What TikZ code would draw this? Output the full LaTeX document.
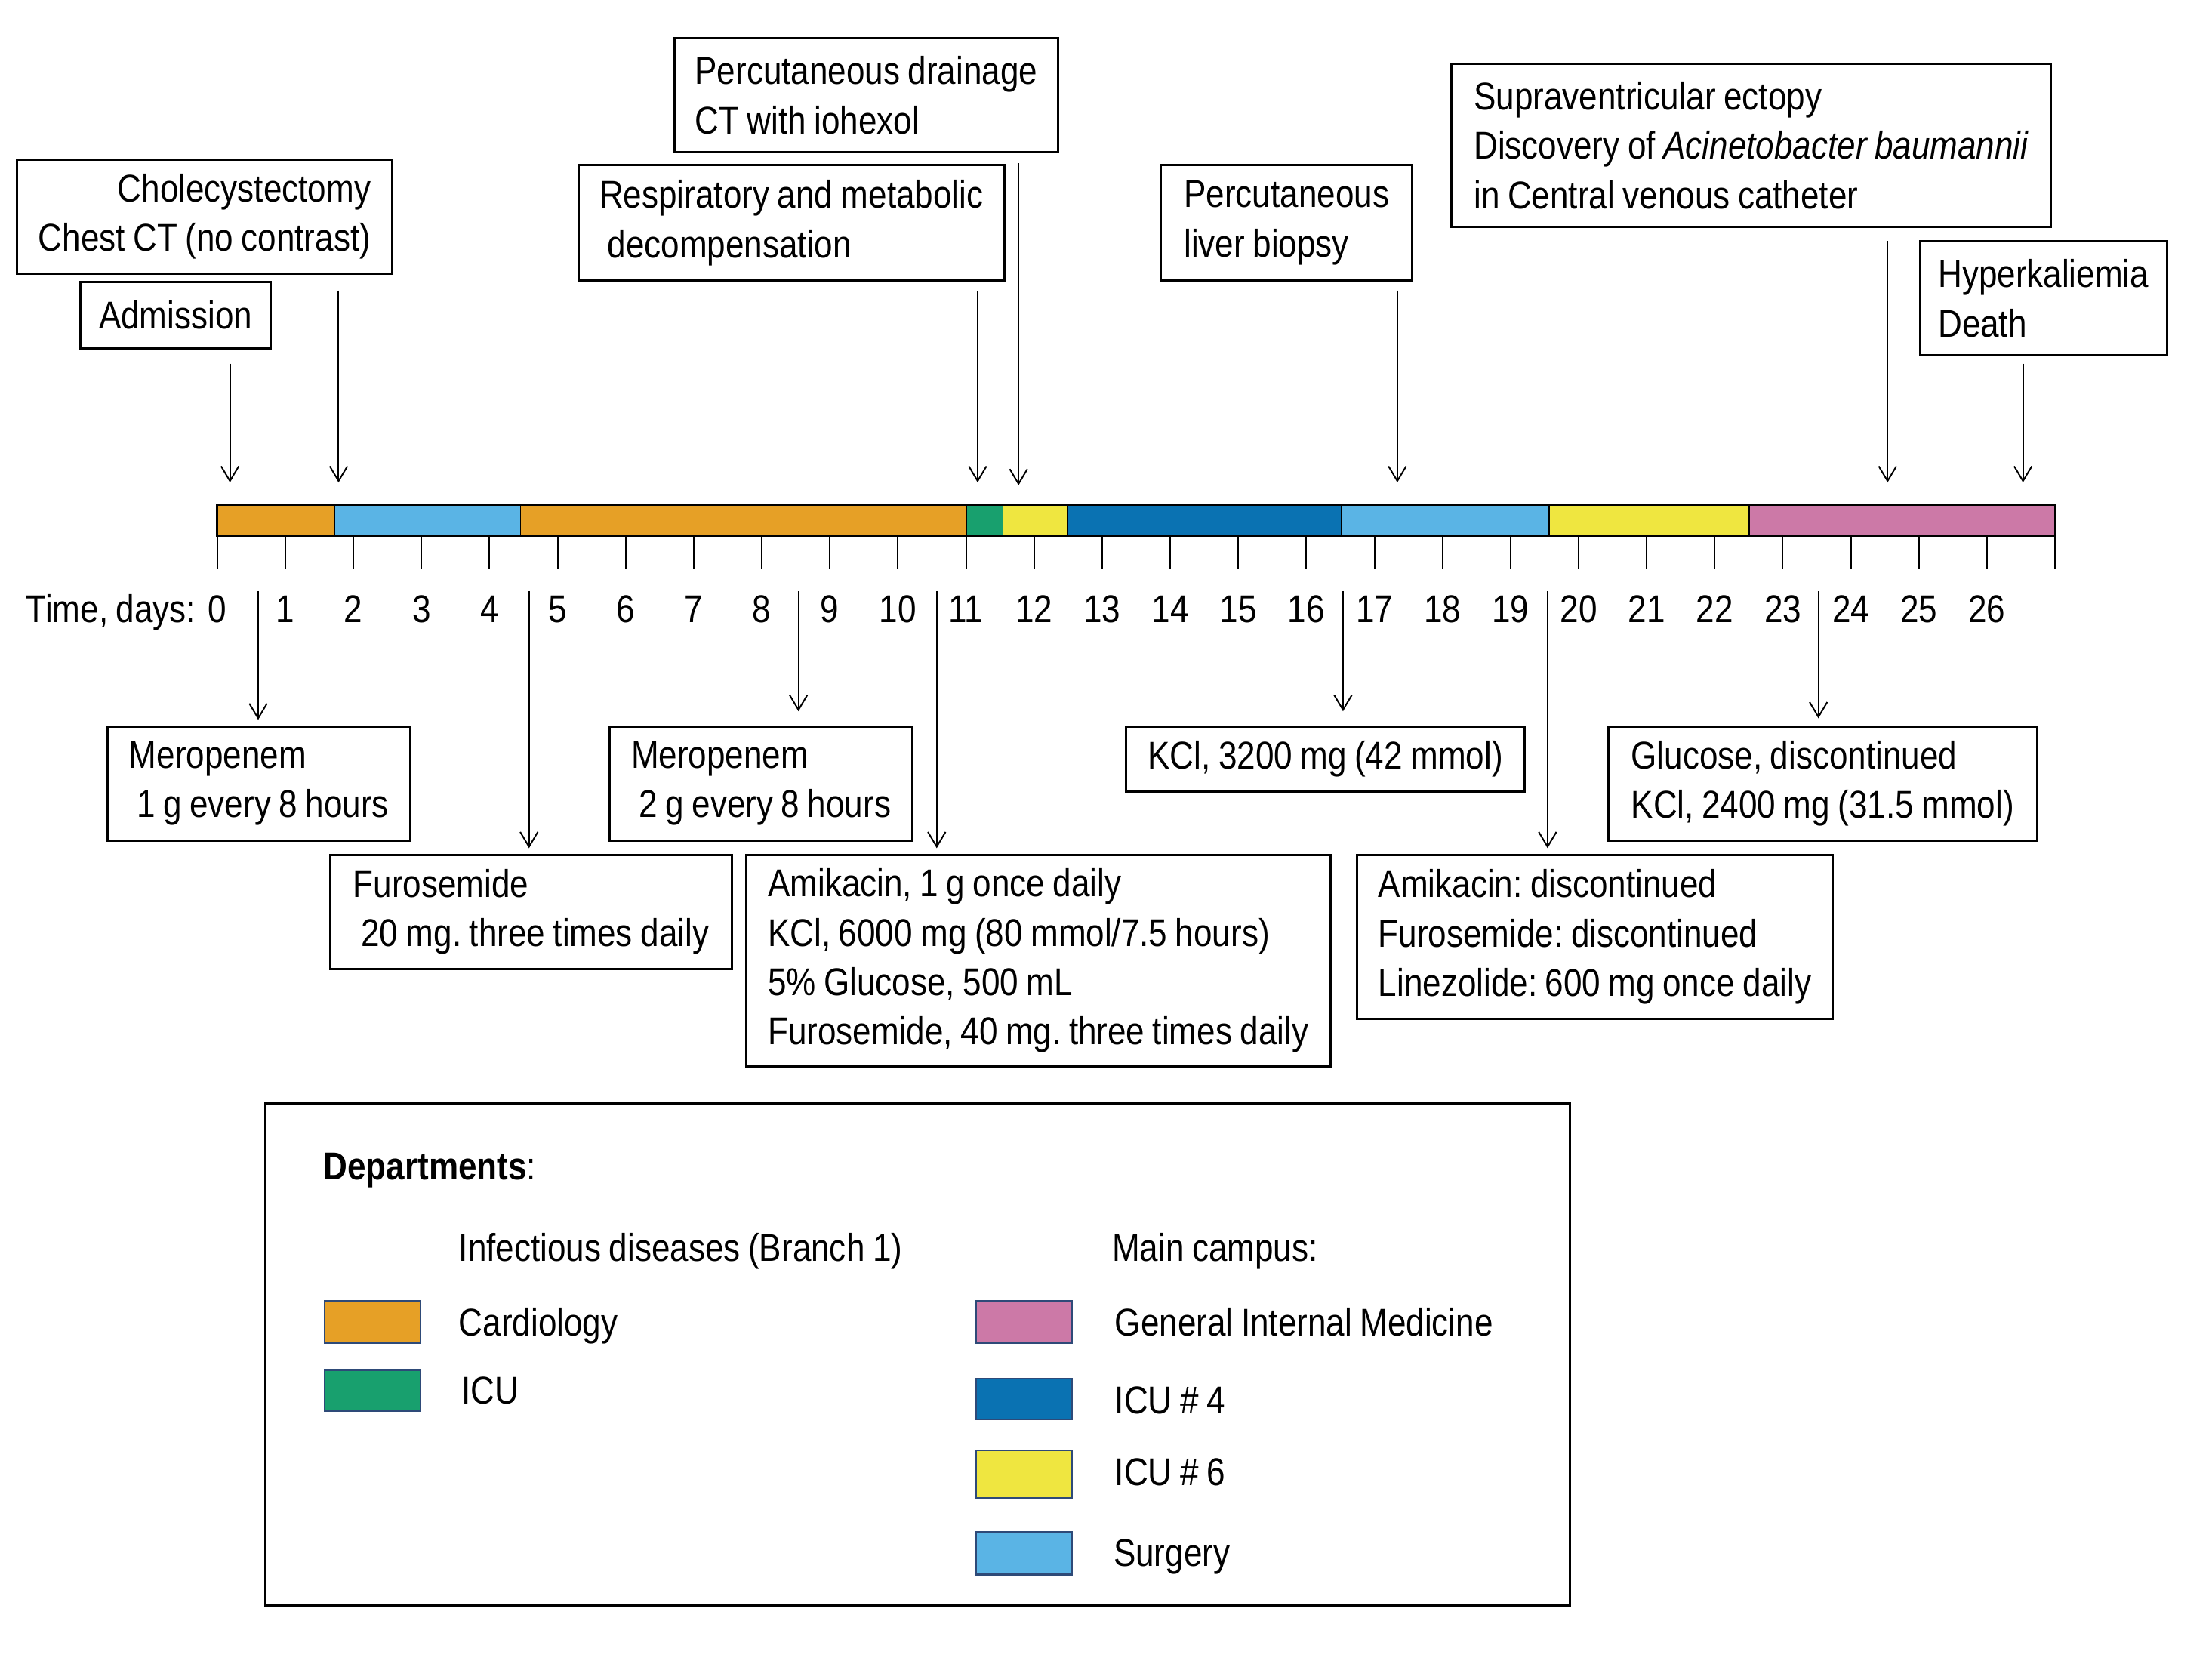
\documentclass[tikz,border=0pt]{standalone}
\usepackage{fontspec}
\setmainfont{Liberation Sans}[FakeStretch=0.86,WordSpace=0.86]
\usepackage{xcolor}
\definecolor{cardio}{HTML}{E6A026}
\definecolor{icuone}{HTML}{18A06E}
\definecolor{gim}{HTML}{CC79A7}
\definecolor{icufour}{HTML}{0A72B2}
\definecolor{icusix}{HTML}{EFE640}
\definecolor{surg}{HTML}{5AB4E5}
\definecolor{swline}{HTML}{2E4A78}
\usepackage{tikz}
\usetikzlibrary{arrows.meta,calc}
\tikzset{
  evt/.style   ={-{Straight Barb[length=2.1mm,width=2.5mm]},line width=0.6pt},
  evbox/.style ={draw,line width=0.9pt,align=left,inner xsep=0.22cm,
                 inner ysep=0pt,font=\fontsize{15.6}{19.9}\selectfont\frenchspacing},
  lbl/.style   ={font=\fontsize{15.6}{19.9}\selectfont\frenchspacing,inner sep=0pt},
  seg/.style   ={draw=black,line width=0.5pt},
  swatch/.style={draw=swline,line width=0.7pt},
}

\begin{document}
\begin{tikzpicture}[x=0.02cm,y=-0.02cm]
\useasboundingbox (0,0) rectangle (1568,1179);
% events above the timeline
\node[evbox,minimum width=2.70cm,minimum height=0.94cm] (adm) at (124.5,223.5) {Admission};
\node[evbox,align=right,minimum width=5.32cm,minimum height=1.62cm] (chole) at (145,153.5)
  {Cholecystectomy\\Chest CT (no contrast)};
\node[evbox,minimum width=5.44cm,minimum height=1.62cm] (drain) at (614,67.5)
  {Percutaneous drainage\\CT with iohexol};
\node[evbox,minimum width=6.04cm,minimum height=1.64cm] (resp) at (561,158)
  {Respiratory and metabolic\\~decompensation};
\node[evbox,minimum width=3.56cm,minimum height=1.64cm] (biop) at (912,158)
  {Percutaneous\\liver biopsy};
\node[evbox,minimum width=8.50cm,minimum height=2.32cm] (supra) at (1241.5,103)
  {Supraventricular ectopy\\Discovery of \textit{Acinetobacter baumannii}\\in Central venous catheter};
\node[evbox,minimum width=3.50cm,minimum height=1.62cm] (hyper) at (1448.5,211.5)
  {Hyperkaliemia\\Death};
% timeline
\foreach \a/\b/\c in {154/237/cardio,237/369/surg,369/685/cardio,685/711/icuone,711/757/icusix,
                      757/951/icufour,951/1098/surg,1098/1240/icusix,1240/1457/gim}
  \draw[seg,fill=\c] (\a,358) rectangle (\b,380);
\draw[line width=0.8pt] (154,358) rectangle (1457,380);
\foreach \d in {0,...,27}
  \draw[line width=0.6pt] (154+48.25*\d,380) -- ++(0,23);
\node[lbl,anchor=base east] (tlab) at (139,441) {Time, days:};
\foreach \d in {0,...,26}
  \node[lbl,anchor=base] (d\d) at (154+48.25*\d,441) {\d};
% arrows down to the timeline
\coordinate (aAdm)   at (163,342);
\coordinate (aChole) at (240,342);
\coordinate (aResp)  at (693,342);
\coordinate (aDrain) at (722,344);
\coordinate (aBiop)  at (990.5,342);
\coordinate (aSupra) at (1338,342);
\coordinate (aHyper) at (1434,342);
\draw[evt,shorten <=0.2cm]  (adm.south -| aAdm) -- (aAdm);
\draw[evt,shorten <=0.22cm] (chole.south -| aChole) -- (aChole);
\draw[evt,shorten <=0.12cm] (resp.south -| aResp) -- (aResp);
\draw[evt,shorten <=0.14cm] (drain.south -| aDrain) -- (aDrain);
\draw[evt,shorten <=0.12cm] (biop.south -| aBiop) -- (aBiop);
\draw[evt,shorten <=0.18cm] (supra.south -| aSupra) -- (aSupra);
\draw[evt,shorten <=0.1cm]  (hyper.south -| aHyper) -- (aHyper);
% treatments below the timeline
\node[evbox,minimum width=4.30cm,minimum height=1.62cm] (mer1) at (183.5,555.5)
  {Meropenem\\~1 g every 8 hours};
\node[evbox,minimum width=5.70cm,minimum height=1.62cm] (furo) at (376.5,646.5)
  {Furosemide\\~20 mg. three times daily};
\node[evbox,minimum width=4.30cm,minimum height=1.62cm] (mer2) at (539.5,555.5)
  {Meropenem\\~2 g every 8 hours};
\node[evbox,minimum width=8.28cm,minimum height=3.00cm] (amik) at (736,681)
  {Amikacin, 1 g once daily\\KCl, 6000 mg (80 mmol/7.5 hours)\\5\% Glucose, 500 mL\\Furosemide, 40 mg. three times daily};
\node[evbox,minimum width=5.66cm,minimum height=0.92cm] (kcl) at (939.5,538)
  {KCl, 3200 mg (42 mmol)};
\node[evbox,minimum width=6.74cm,minimum height=2.32cm] (amdis) at (1130.5,664)
  {Amikacin: discontinued\\Furosemide: discontinued\\Linezolide: 600 mg once daily};
\node[evbox,minimum width=6.08cm,minimum height=1.62cm] (gluc) at (1292,555.5)
  {Glucose, discontinued\\KCl, 2400 mg (31.5 mmol)};
\coordinate (bMer1)  at (183,419);
\coordinate (bFuro)  at (375,419);
\coordinate (bMer2)  at (566,419);
\coordinate (bAmik)  at (664,419);
\coordinate (bKcl)   at (952,419);
\coordinate (bAmdis) at (1097,419);
\coordinate (bGluc)  at (1289,419);
\draw[evt,shorten >=0.08cm] (bMer1) -- (mer1.north -| bMer1);
\draw[evt,shorten >=0.08cm] (bFuro) -- (furo.north -| bFuro);
\draw[evt,shorten >=0.2cm]  (bMer2) -- (mer2.north -| bMer2);
\draw[evt,shorten >=0.08cm] (bAmik) -- (amik.north -| bAmik);
\draw[evt,shorten >=0.2cm]  (bKcl) -- (kcl.north -| bKcl);
\draw[evt,shorten >=0.08cm] (bAmdis) -- (amdis.north -| bAmdis);
\draw[evt,shorten >=0.1cm]  (bGluc) -- (gluc.north -| bGluc);
% legend
\draw[line width=0.8pt] (188,782) rectangle (1113,1138);
\node[lbl,anchor=base west] (ldep) at (229,836) {\textbf{Departments}:};
\node[lbl,anchor=base west] (linf) at (325,894) {Infectious diseases (Branch 1)};
\node[lbl,anchor=base west] (lmain) at (788,894) {Main campus:};
\draw[swatch,fill=cardio]  (230,922) rectangle (298,952);
\draw[swatch,fill=icuone]  (230,971) rectangle (298,1000);
\draw[swatch,fill=gim]     (692,922) rectangle (760,952);
\draw[swatch,fill=icufour] (692,977) rectangle (760,1006);
\draw[swatch,fill=icusix]  (692,1028) rectangle (760,1062);
\draw[swatch,fill=surg]    (692,1086) rectangle (760,1116);
\node[lbl,anchor=base west] (lcar) at (325,947) {Cardiology};
\node[lbl,anchor=base west] (licu) at (327,995) {ICU};
\node[lbl,anchor=base west] (lgim) at (790,947) {General Internal Medicine};
\node[lbl,anchor=base west] (lfour) at (790,1002) {ICU \# 4};
\node[lbl,anchor=base west] (lsix) at (790,1053) {ICU \# 6};
\node[lbl,anchor=base west] (lsur) at (789,1110) {Surgery};
\end{tikzpicture}
\end{document}
